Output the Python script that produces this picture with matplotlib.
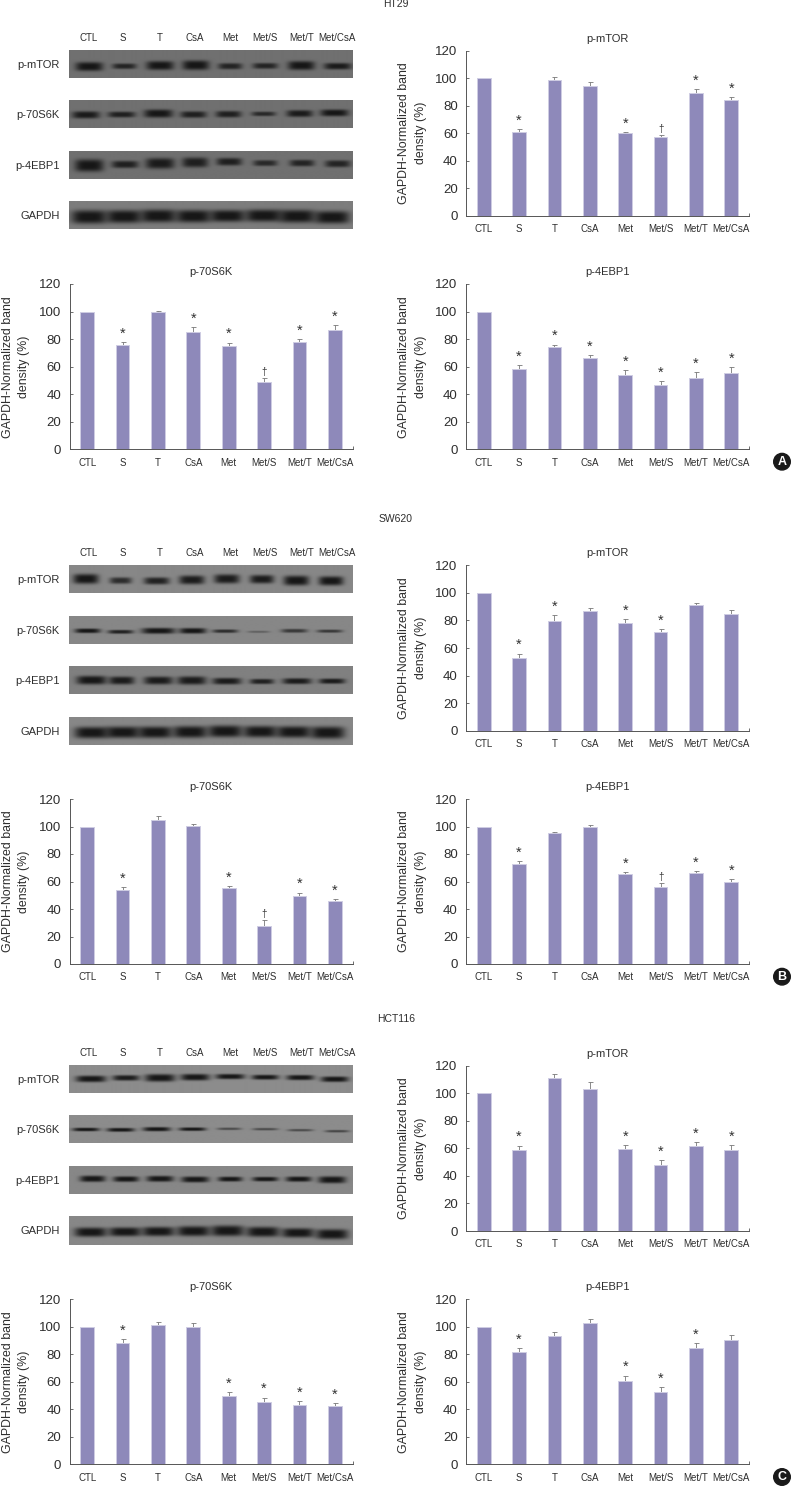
import numpy as np
import matplotlib
matplotlib.use("Agg")
import matplotlib.pyplot as plt
from matplotlib.patches import Circle

W, H = 792, 1486
plt.rcParams['font.family'] = ['Liberation Sans', 'DejaVu Sans']
TXT = '#2e2e2e'

CATS = ['CTL', 'S', 'T', 'CsA', 'Met', 'Met/S', 'Met/T', 'Met/CsA']
LANE_X = [88.3, 123.3, 160, 195, 230.3, 265, 301.7, 336.7]
BLOT_NAMES = ['p-mTOR', 'p-70S6K', 'p-4EBP1', 'GAPDH']

# bar charts: value, upper error, significance mark
A_MTOR = [100, 61, 98.5, 94.5, 60, 57.5, 89, 84.2]
A_MTOR_E = [0, 2, 2.5, 2.5, 0.7, 1, 3, 2.2]
A_MTOR_S = ['', '*', '', '', '*', '†', '*', '*']
A_S6K = [100, 75.5, 100, 85.5, 75, 48.5, 78, 86.5]
A_S6K_E = [0, 2.3, 0.7, 3, 2.5, 3, 2, 3.5]
A_S6K_S = ['', '*', '', '*', '*', '†', '*', '*']
A_EBP = [100, 58, 74.5, 66, 54, 46.5, 52, 55.5]
A_EBP_E = [0, 3, 1.5, 2.2, 3.3, 3, 4.2, 4.2]
A_EBP_S = ['', '*', '*', '*', '*', '*', '*', '*']
B_MTOR = [100, 52.5, 79.5, 86.5, 78, 71.5, 91, 84.5]
B_MTOR_E = [0, 3.5, 4.3, 2.3, 3, 2.2, 1.3, 3]
B_MTOR_S = ['', '*', '*', '', '*', '*', '', '']
B_S6K = [100, 53.5, 105, 100.5, 55, 27.5, 49.5, 46]
B_S6K_E = [0, 2.3, 2.7, 1, 1.8, 4.3, 2.5, 1.5]
B_S6K_S = ['', '*', '', '', '*', '†', '*', '*']
B_EBP = [100, 72.5, 95, 100, 65.5, 56, 66, 60]
B_EBP_E = [0, 2.2, 1.3, 1.2, 1.2, 2.8, 1.3, 2]
B_EBP_S = ['', '*', '', '', '*', '†', '*', '*']
C_MTOR = [100, 59, 111, 103, 59.5, 48, 62, 58.5]
C_MTOR_E = [0, 3, 3.3, 5, 3, 3.2, 2.8, 3.7]
C_MTOR_S = ['', '*', '', '', '*', '*', '*', '*']
C_S6K = [100, 88, 101.5, 100, 49.5, 45.5, 43, 42.5]
C_S6K_E = [0, 2.8, 2.2, 2.5, 2.8, 3, 3, 2]
C_S6K_S = ['', '*', '', '', '*', '*', '*', '*']
C_EBP = [100, 82, 93, 102.5, 60.5, 52.5, 84.5, 90.5]
C_EBP_E = [0, 2.3, 3.3, 3.5, 4, 3.5, 3.5, 3.5]
C_EBP_S = ['', '*', '', '', '*', '*', '*', '']

# blot bands (in 1/3 px): lane x, width, thickness, y
A_GEL = [
 ([268,373,480,587,690,795,903,1012],[82,72,82,80,72,75,80,82],[24,14,24,26,16,15,24,17],[201,200,198,197,200,199,198,200]),
 ([258,365,475,580,685,790,898,1002],[82,82,86,78,76,72,78,84],[19,15,22,17,17,11,18,18],[346,345,342,345,344,343,342,340]),
 ([268,375,480,585,687,795,905,1012],[86,80,86,78,76,72,74,76],[34,19,29,27,20,15,17,18],[497,494,491,488,486,490,490,492]),
 ([268,372,475,580,682,790,890,995],[106,104,106,104,104,108,108,104],[38,36,36,35,33,34,36,35],[651,650,648,649,648,647,649,652]),
]
B_GEL = [
 ([258,362,470,575,680,785,888,992],[76,66,76,76,76,72,76,74],[27,17,19,24,25,23,27,25],[208,213,214,211,208,209,213,214]),
 ([263,362,475,578,675,775,882,988],[76,76,100,80,76,66,78,76],[11,9,15,14,8,4,9,7],[363,366,363,363,364,366,363,364]),
 ([275,365,475,575,680,785,890,995],[90,76,86,86,86,72,86,78],[23,21,21,22,17,13,15,13],[511,512,512,512,514,515,514,514]),
 ([275,368,465,570,675,780,880,982],[102,102,102,102,102,100,102,102],[32,32,32,33,33,32,32,34],[668,667,667,666,664,665,666,668]),
]
C_GEL = [
 ([273,378,480,585,690,795,900,1003],[90,80,90,86,86,80,82,82],[17,14,20,17,13,12,13,14],[208,205,205,203,201,203,204,209]),
 ([258,362,470,577,687,795,900,1010],[80,82,82,80,72,76,76,72],[8,9,10,8,5,5,5,5],[360,361,359,359,358,359,362,365]),
 ([278,378,480,585,690,795,895,995],[76,76,80,82,72,76,76,82],[16,14,15,15,12,11,13,18],[507,508,507,509,508,508,508,510]),
 ([272,375,475,580,682,788,893,995],[96,96,96,98,98,98,96,96],[25,24,25,27,29,27,25,27],[667,666,665,664,663,666,669,673]),
]
A_GEL_S = [[1,.85,1,1,.85,.85,1,.95],[.95,.9,1,.9,.9,.8,.95,1],[1,.9,.95,.9,.9,.8,.85,.85],[1]*8]
B_GEL_S = [[1,.8,.9,.95,.95,.95,1,1],[1,.9,1,1,.8,.35,.7,.7],[1,.95,.95,.95,.95,.9,.95,.95],[1]*8]
C_GEL_S = [[1,.95,1,1,1,1,1,1],[1,1,1,1,.55,.55,.55,.6],[1,1,1,1,1,1,1,1],[1]*8]

fig = plt.figure(figsize=(W/100, H/100), dpi=100, facecolor='white')
ov = fig.add_axes([0, 0, 1, 1], zorder=0)
ov.set_xlim(0, W); ov.set_ylim(H, 0); ov.axis('off'); ov.set_autoscale_on(False)


def gel(x0, y0, x1, y1, off, band, strength, bg):
    cx, wd, th, cy = [np.array(v, float)/3 for v in band]
    cy = cy + off
    xs = np.arange(x0, x1, 0.5); ys = np.arange(y0, y1, 0.5)
    X, Y = np.meshgrid(xs, ys)
    keep = np.ones_like(X)
    for c, w, t, y, s in zip(cx, wd, th, cy, strength):
        d = s*np.exp(-np.abs((X-c)/(w/2))**4)*np.exp(-np.abs((Y-y)/(t/2+0.4))**3.2)
        keep *= 1-np.clip(d, 0, .99)
    img = 22+(bg-22)*keep
    ov.imshow(img, extent=(x0, x1, y1, y0), cmap='gray', vmin=0, vmax=255,
              aspect='auto', interpolation='bilinear', zorder=1)


def blot(rows, off, bands, strengths, bgs, lane_y):
    for (y0, y1), band, st, bg, name in zip(rows, bands, strengths, bgs, BLOT_NAMES):
        gel(69.3, y0, 352.7, y1, off, band, st, bg)
        ov.text(60, (y0+y1)/2+0.5, name, ha='right', va='center', fontsize=8, color=TXT)
    for x, c in zip(LANE_X, CATS):
        ov.text(x, lane_y, c, ha='center', va='center', fontsize=7, color=TXT)


def chart(x0, y120, y0, vals, errs, marks, title):
    x1 = x0+283
    ax = fig.add_axes([x0/W, 1-y0/H, (x1-x0)/W, (y0-y120)/H], zorder=2)
    ax.patch.set_alpha(0)
    x = np.arange(8)
    ax.bar(x, vals, width=0.39, color='#8E89BA', edgecolor='#CFCDE3', linewidth=0.7, zorder=2)
    for i, (v, e, m) in enumerate(zip(vals, errs, marks)):
        if e > 0:
            ax.errorbar(i, v, yerr=[[0], [e]], color='#777777', elinewidth=0.6,
                        capsize=1.8, capthick=0.6, zorder=1)
        if m:
            dy = 1.0 if m == '*' else 0.8
            ax.annotate(m, (i, v+e), xytext=(0, dy), textcoords='offset points',
                        ha='center', va='bottom', fontsize=10.5 if m == '*' else 7,
                        color='#333333', family=['Liberation Sans', 'DejaVu Sans'])
    ax.set_xlim(-0.5, 7.5); ax.set_ylim(0, 120)
    ax.set_yticks(range(0, 121, 20))
    ax.set_xticks(x, CATS)
    ax.set_xticks([7.5], minor=True)
    ax.tick_params(axis='x', which='major', length=0, pad=6, labelsize=7, labelcolor=TXT)
    ax.tick_params(axis='x', which='minor', length=2.2, width=0.6, direction='in', color='#555555')
    ax.tick_params(axis='y', length=2.2, width=0.6, direction='in', color='#555555',
                   pad=6, labelsize=9.5, labelcolor=TXT)
    for s in ['top', 'right']:
        ax.spines[s].set_visible(False)
    for s in ['left', 'bottom']:
        ax.spines[s].set_color('#555555'); ax.spines[s].set_linewidth(0.7)
    xc = (x0+x1)/2
    ov.text(xc, y120-12, title, ha='center', va='center', fontsize=8, color=TXT)
    ov.text(x0-53.5, (y0+y120)/2, 'GAPDH-Normalized band\ndensity (%)', rotation=90,
            ha='center', va='center', multialignment='center', fontsize=8.9,
            color=TXT, linespacing=1.48)


RX, LX = 466, 69.5
# HT29
ov.text(396, 4, 'HT29', ha='center', va='center', fontsize=7.5, color=TXT)
blot([(50.7, 78.3), (100.7, 128.3), (151.7, 179), (201.3, 229.3)], 0, A_GEL, A_GEL_S, [112, 112, 112, 125], 37.7)
chart(RX, 50.7, 215.7, A_MTOR, A_MTOR_E, A_MTOR_S, 'p-mTOR')
chart(LX, 284, 449.3, A_S6K, A_S6K_E, A_S6K_S, 'p-70S6K')
chart(RX, 284, 449.3, A_EBP, A_EBP_E, A_EBP_S, 'p-4EBP1')
# SW620
ov.text(396, 519, 'SW620', ha='center', va='center', fontsize=7.5, color=TXT)
blot([(565.7, 593.3), (616.7, 644), (666.7, 694), (717.3, 745)], 510, B_GEL, B_GEL_S, [135, 135, 128, 135], 552.7)
chart(RX, 565.3, 730.7, B_MTOR, B_MTOR_E, B_MTOR_S, 'p-mTOR')
chart(LX, 799, 964, B_S6K, B_S6K_E, B_S6K_S, 'p-70S6K')
chart(RX, 799, 964, B_EBP, B_EBP_E, B_EBP_S, 'p-4EBP1')
# HCT116
ov.text(396, 1019, 'HCT116', ha='center', va='center', fontsize=7.5, color=TXT)
blot([(1065.7, 1093.3), (1116, 1143.3), (1166.7, 1194), (1216.7, 1245)], 1010, C_GEL, C_GEL_S, [140, 140, 135, 135], 1052.7)
chart(RX, 1065.7, 1231, C_MTOR, C_MTOR_E, C_MTOR_S, 'p-mTOR')
chart(LX, 1299.3, 1464.3, C_S6K, C_S6K_E, C_S6K_S, 'p-70S6K')
chart(RX, 1299.3, 1464.3, C_EBP, C_EBP_E, C_EBP_S, 'p-4EBP1')

for letter, y in zip('ABC', [461.7, 976.7, 1477]):
    ov.add_patch(Circle((782, y), 8.3, color='#1a1a1a', zorder=3))
    ov.text(782, y+0.3, letter, ha='center', va='center', color='white', fontsize=9,
            fontweight='bold', zorder=4)

fig.savefig('out.png', dpi=100, facecolor='white')
